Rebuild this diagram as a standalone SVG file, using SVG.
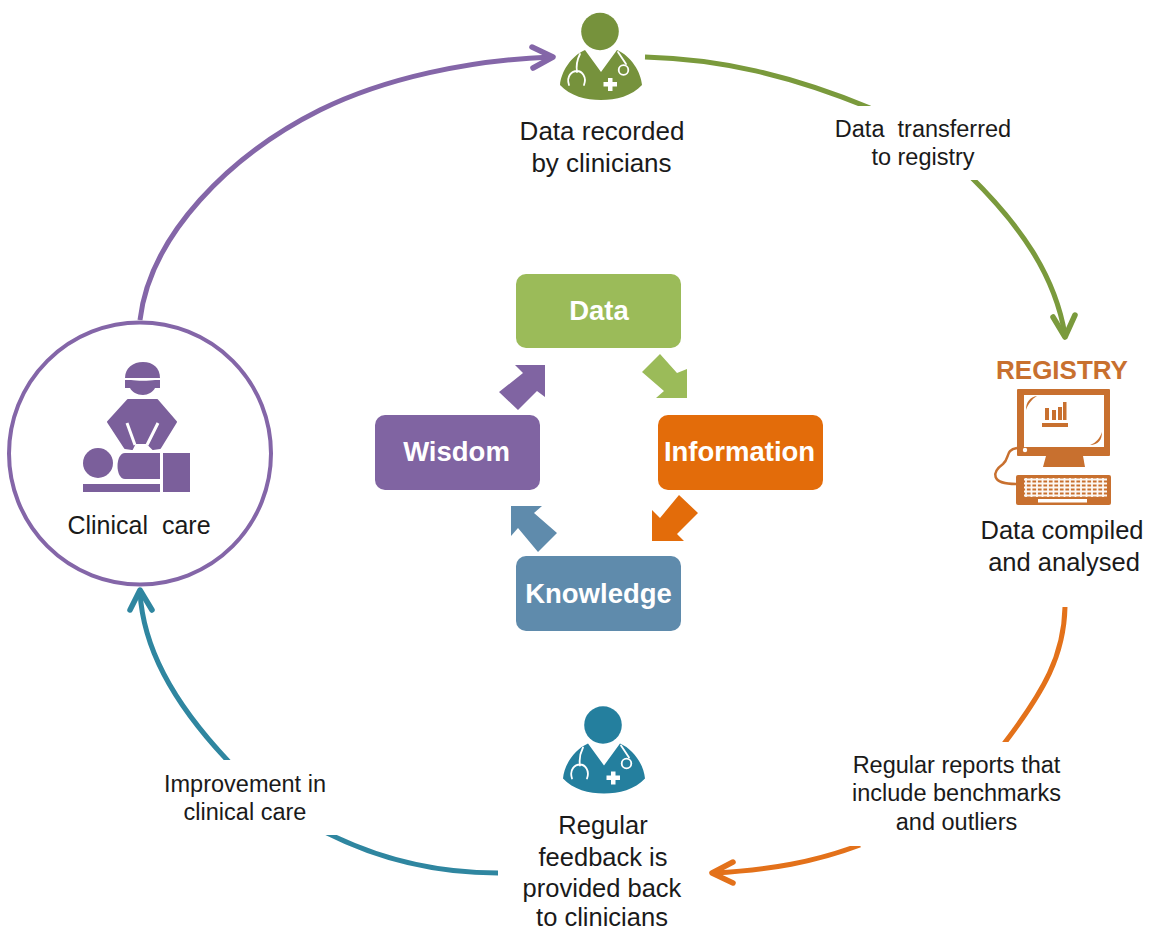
<svg xmlns="http://www.w3.org/2000/svg" width="1150" height="930" viewBox="0 0 1150 930">
<style>
text{font-family:"Liberation Sans",Arial,sans-serif;text-anchor:middle;fill:#1a1a1a}
.l{font-size:25.500px}.s{font-size:23.500px}
.b{font-size:27.500px;font-weight:bold;fill:#fff}
.c{fill:none;stroke-width:5}
.head{fill:none;stroke-width:5.500;stroke-linecap:round;stroke-linejoin:round}
.st{fill:none;stroke:#fff;stroke-width:1.800;stroke-linecap:round}
.g{stroke:#7a9a3c}.o{stroke:#e3711a}.t{stroke:#2f86a0}.p{stroke:#8466a8}
.r{fill:#c8702f}
</style>
<defs>
<clipPath id="cg"><rect x="0" y="0" width="1150" height="106"/><rect x="0" y="180" width="1150" height="300"/></clipPath>
<clipPath id="co"><rect x="0" y="600" width="1150" height="142"/><rect x="0" y="846" width="1150" height="84"/></clipPath>
<clipPath id="ct"><rect x="0" y="580" width="1150" height="180"/><rect x="0" y="835" width="1150" height="95"/></clipPath>
<g id="doc">
<circle cx="600" cy="31.500" r="18.800"/>
<path d="M585 50 L601 72 L617 50 C631 56 641 72 642 85 C632 96 616 100 601 100 C586 100 570 96 560 85 C561 72 571 56 585 50Z"/>
<path class="st" d="M580 54 C577 60 576 66 577 72 M569 85 C566 76 572 71 577 71 C582 71 587 77 584 85"/>
<path class="st" d="M618 52 L626 64"/>
<circle class="st" cx="623.500" cy="70" r="4.800"/>
<path d="M608 78h4.500v4h4.500v4.500h-4.500v4.500h-4.500v-4.500h-4.500v-4.500h4.500z" fill="#fff"/>
</g>
</defs>
<rect width="1150" height="930" fill="#fff"/>
<g id="connectors">
<path class="c p" stroke-width="4.500" d="M140 320 C150 235 230 155 320 110 C385 78 470 60 551 57"/>
<path class="head p" d="M532 47 L553 57 L533 68"/>
<g clip-path="url(#cg)">
<path class="c g" d="M645 57 C720 59 790 75 870 108"/>
<path class="c g" d="M970 176 C1020 225 1055 275 1065 335"/>
</g>
<path class="head g" d="M1053 317 L1065 337 L1075 315"/>
<g clip-path="url(#co)">
<path class="c o" d="M1065 607 C1064 655 1045 690 1003 745"/>
<path class="c o" d="M860 845 C815 862 770 870 714 873"/>
</g>
<path class="head o" d="M733 862 L712 873 L733 883"/>
<g clip-path="url(#ct)">
<path class="c t" d="M498 873 C440 873 380 860 325 832"/>
<path class="c t" d="M230 763 C170 700 143 645 140 592"/>
</g>
<path class="head t" d="M130 610 L140 590 L152 610"/>
<polygon fill="#9bbb59" points="660,354 677,373 687,369 687,398 656,398 664,391 642,372"/>
<polygon fill="#e36c0a" points="652,541 652,510 660,518 679,495 698,513 677,534 684,541"/>
<polygon fill="#5f8bac" points="511,506 542,506 534,513 557,533 538,552 518,528 511,536"/>
<polygon fill="#8064a2" points="545,365 515,365 523,373 499,392 518,410 537,391 545,397"/>
</g>
<g id="node-data"><rect x="516" y="274" width="165" height="74" rx="10" fill="#9bbb59"/><text class="b" x="599" y="320">Data</text></g>
<g id="node-information"><rect x="658" y="415" width="165" height="75" rx="10" fill="#e36c0a"/><text class="b" x="739.500" y="461">Information</text></g>
<g id="node-knowledge"><rect x="516" y="556" width="165" height="75" rx="10" fill="#5f8bac"/><text class="b" x="598.500" y="603">Knowledge</text></g>
<g id="node-wisdom"><rect x="375" y="415" width="165" height="75" rx="10" fill="#8064a2"/><text class="b" x="456.500" y="461">Wisdom</text></g>
<g id="node-recorded">
<use href="#doc" fill="#76923c"/>
<text class="l" font-size="26" style="font-size:26px" x="602" y="140">Data recorded</text><text class="l" style="font-size:26px" x="601.500" y="172">by clinicians</text>
</g>
<g id="label-transferred"><text class="s" x="923" y="137" xml:space="preserve">Data  transferred</text><text class="s" x="923" y="165">to registry</text></g>
<g id="node-registry">
<text x="1062" y="379" font-size="26" font-weight="bold" style="fill:#c8702f">REGISTRY</text>
<rect class="r" x="1017" y="389" width="93" height="67" rx="1"/>
<rect x="1024" y="395" width="80" height="52" fill="#fff"/>
<path class="r" d="M1026 410 C1026 402 1030 397 1037 396 C1032 399 1028 404 1026 410Z"/>
<path class="r" d="M1102 432 C1102 440 1098 445 1090 445 C1096 443 1100 438 1102 432Z"/>
<path class="r" d="M1045 408h4v12h-4zM1052 410h4v10h-4zM1058 407h4v13h-4zM1063 402h3.500v18h-3.500zM1042 423h26v4h-26z"/>
<circle cx="1025" cy="450" r="2.200" fill="#fff"/>
<path class="r" d="M1046 456 H1083 L1085 467 H1043Z"/>
<path d="M1017 448 C1005 450 1010 458 1003 464 C992 472 990 484 1016 484" fill="none" stroke="#c8702f" stroke-width="2.500"/>
<rect class="r" x="1016" y="475" width="95" height="30" rx="2"/>
<path d="M1024 479.500H1107M1024 483.500H1107M1024 487.500H1107M1024 491.500H1107M1024 495.500H1107M1026 478V497M1031.500 478V497M1037 478V497M1042.500 478V497M1048 478V497M1053.500 478V497M1059 478V497M1064.500 478V497M1070 478V497M1075.500 478V497M1081 478V497M1086.500 478V497M1092 478V497M1097.500 478V497M1103 478V497" stroke="#fff" stroke-width="1.800" fill="none" opacity="0.950"/>
<rect x="1038" y="499" width="49" height="3.500" fill="#fff"/>
<text class="l" x="1062" y="539">Data compiled</text><text class="l" x="1064" y="571">and analysed</text>
</g>
<g id="label-reports"><text class="s" x="956.500" y="773">Regular reports that</text><text class="s" x="956.500" y="801">include benchmarks</text><text class="s" x="956.500" y="830">and outliers</text></g>
<g id="node-feedback">
<use href="#doc" x="3" y="693.500" fill="#247f9e"/>
<text class="l" x="603" y="834">Regular</text><text class="l" x="603" y="866">feedback is</text><text class="l" x="602" y="897">provided back</text><text class="l" x="602" y="926">to clinicians</text>
</g>
<g id="label-improvement"><text class="s" x="245" y="792">Improvement in</text><text class="s" x="245" y="820">clinical care</text></g>
<g id="node-clinical">
<circle cx="140" cy="453.500" r="131" fill="#fff" stroke="#8466a8" stroke-width="4"/>
<g fill="#7b5f9b">
<path d="M125 378 C125 368 133 362 143 362 C153 362 160 368 160 378 Z"/>
<path d="M125 380 H131 C136 381 150 381 155 380 H160 V388 H155 C153 392 148 395 143 395 C137 395 132 392 130 388 H125Z"/>
<path d="M128 400 H157 L176 422 L160 448 L153 449 L147 443 H135 L132 449 L125 448 L108 422 Z" stroke="#7b5f9b" stroke-width="2" stroke-linejoin="round"/>
<circle cx="98" cy="463" r="15"/>
<path d="M125 453 H160 V479 H125 C115 479 115 453 125 453Z"/>
<rect x="163" y="453" width="27" height="39"/>
<rect x="83" y="484" width="77" height="8"/>
</g>
<path d="M127 423 L135 445 M158 423 L147 445" stroke="#fff" stroke-width="3" fill="none"/>
<text x="139" y="534" font-size="25" style="font-size:25px" xml:space="preserve">Clinical  care</text>
</g>
</svg>
